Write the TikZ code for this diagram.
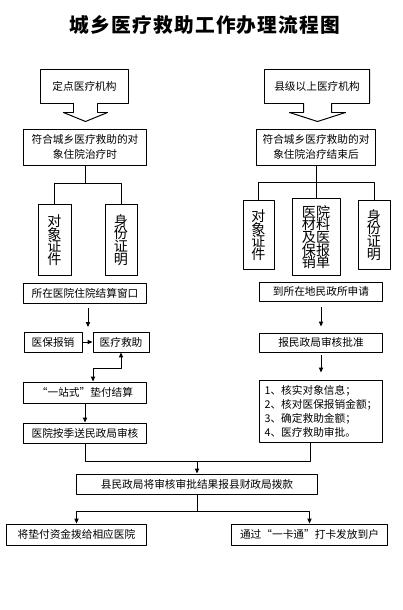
\documentclass[tikz,border=0pt]{standalone}
\usepackage{fontspec}
\newfontfamily\cjk{Noto Sans CJK SC}
\newfontfamily\cjktitle[LetterSpace=6]{Noto Sans CJK SC}
\usetikzlibrary{arrows.meta,calc}
\tikzset{box/.style={draw,line width=0.7pt,inner sep=0pt,align=center,minimum height=0.5cm,font=\cjk\fontsize{7.6pt}{10.5pt}\selectfont},
  tall/.style={box,font=\cjk\fontsize{10pt}{9pt}\selectfont\lineskiplimit-5pt},
  listbox/.style={box,align=left,font=\cjk\fontsize{7.6pt}{10pt}\selectfont},
  link/.style={line width=0.7pt},
  flow/.style={link,-{Triangle[length=3.5pt,width=3pt]}},
  both/.style={link,{Triangle[length=3.5pt,width=3pt]}-{Triangle[length=3.5pt,width=3pt]}}}

\begin{document}
\begin{tikzpicture}[x=0.025cm,y=-0.025cm,line join=round]
\useasboundingbox (0,0) rectangle (402,610);
\node[font=\cjktitle\bfseries\fontsize{14pt}{16pt}\selectfont] (title) at (205,25) {城乡医疗救助工作办理流程图};
% --- the two starting points, drawn as down-arrow callouts
\node[box,draw=none,minimum width=2.175cm,minimum height=0.825cm] (src1) at (84.5,86.5) {定点医疗机构};
\draw[link] (src1.south west) -- (src1.north west) -- (src1.north east) -- (src1.south east) -- ++(-31,0) -- ++(0,9) -- ++(10,0) -- ++(-22,9) -- ++(-22,-9) -- ++(10,0) -- ++(0,-9) -- cycle;
\node[box,draw=none,minimum width=2.6cm,minimum height=0.825cm] (src2) at (317,86.5) {县级以上医疗机构};
\draw[link] (src2.south west) -- (src2.north west) -- (src2.north east) -- (src2.south east) -- ++(-38,0) -- ++(0,9) -- ++(14,0) -- ++(-28,9) -- ++(-28,-9) -- ++(14,0) -- ++(0,-9) -- cycle;
% --- left column: in hospital
\node[box,minimum width=3.05cm,minimum height=0.9cm] (stayL) at (85,147) {符合城乡医疗救助的对\\象住院治疗时};
\node[tall,minimum width=0.825cm,minimum height=1.75cm] (certL) at (54.5,240) {对\\象\\证\\件};
\node[tall,minimum width=0.8cm,minimum height=1.75cm] (idL) at (121,240) {身\\份\\证\\明};
\coordinate (jL) at (85,183);
\draw[link] (stayL) -- (jL) -| (certL);
\draw[link] (jL) -| (idL);
\node[box,minimum width=3.05cm] (window) at (85,293) {所在医院住院结算窗口};
\node[box,minimum width=1.45cm] (medIns) at (53,342) {医保报销};
\node[box,minimum width=1.4cm] (medAid) at (121,342) {医疗救助};
\node[box,minimum width=3.05cm,minimum height=0.525cm] (onestop) at (85,392.5) {“一站式”垫付结算};
\node[box,minimum width=3.05cm] (report) at (85,433) {医院按季送民政局审核};
\coordinate (gapL) at (88,327);
\draw[flow,shorten <=1.25mm] (window.south -| gapL) -- (gapL);
\draw[flow] (medIns) -- (medAid);
\draw[both] (medAid.south) -- ++(0,16) -| ($(onestop.north)+(8,0)$);
\draw[flow] (onestop) -- (report);
% --- right column: after discharge
\node[box,minimum width=2.95cm,minimum height=0.9cm] (stayR) at (316,147) {符合城乡医疗救助的对\\象住院治疗结束后};
\node[tall,minimum width=0.775cm,minimum height=1.7cm] (certR) at (258.5,235) {对\\象\\证\\件};
\node[tall,minimum width=1.2cm,minimum height=1.9cm] (matR) at (316,237) {医院\\材料\\及医\\保报\\销单};
\node[tall,minimum width=0.8cm,minimum height=1.7cm] (idR) at (374,235) {身\\份\\证\\明};
\coordinate (jR) at (316,182);
\draw[link] (stayR) -- (jR) -| (certR);
\draw[link] (jR) -| (idR);
\draw[link] (jR) -- (matR);
\node[box,minimum width=3.05cm,minimum height=0.475cm] (apply) at (321,291.5) {到所在地民政所申请};
\node[box,minimum width=3.05cm,minimum height=0.475cm] (approve) at (321,342.5) {报民政局审核批准};
\node[listbox,minimum width=3.05cm,minimum height=1.55cm] (check) at (321,411) {1、核实对象信息；\\2、核对医保报销金额；\\3、确定救助金额；\\4、医疗救助审批。};
\draw[flow,shorten <=1.5mm,shorten >=1.5mm] (apply) -- (approve);
\draw[flow,shorten <=0.75mm,shorten >=1.75mm] (approve) -- (check);
% --- both columns meet at the county office
\coordinate (mL) at (85,461);
\coordinate (mR) at (310,461);
\node[box,minimum width=6cm] (county) at (197,484) {县民政局将审核审批结果报县财政局拨款};
\draw[link] (report) -- (mL) -- (mR) -- (check.south -| mR);
\draw[flow] (county.north |- mL) -- (county);
\coordinate (sB) at (197,511);
\node[box,minimum width=3.475cm,minimum height=0.525cm] (payHosp) at (76.5,534.5) {将垫付资金拨给相应医院};
\node[box,minimum width=3.875cm,minimum height=0.525cm] (payHome) at (309.5,534.5) {通过“一卡通”打卡发放到户};
\draw[link] (county) -- (sB);
\draw[flow] (sB) -| (payHosp);
\draw[flow] (sB) -| (payHome);
\end{tikzpicture}
\end{document}
